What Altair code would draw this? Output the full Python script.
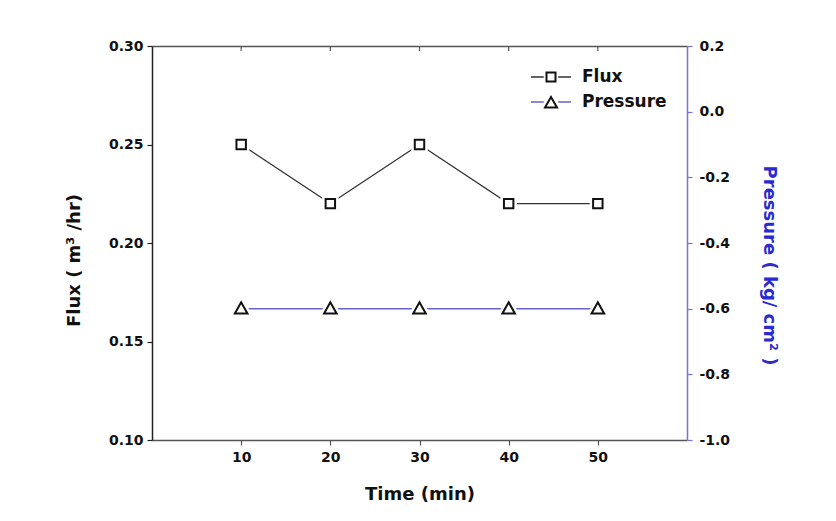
import altair as alt
import pandas as pd

# ---- data ----
time_min = [10, 20, 30, 40, 50]
flux = [0.25, 0.22, 0.25, 0.22, 0.22]
pressure = [-0.6, -0.6, -0.6, -0.6, -0.6]
series_names = ["Flux", "Pressure"]
marker_names = ["Flux marker", "Pressure marker"]
x_ticks = [10, 20, 30, 40, 50]
flux_ticks = [0.10, 0.15, 0.20, 0.25, 0.30]
pressure_ticks = [-1.0, -0.8, -0.6, -0.4, -0.2, 0.0, 0.2]

df_flux = pd.DataFrame({"time": time_min, "value": flux,
                        "series": series_names[0], "marker": marker_names[0]})
df_press = pd.DataFrame({"time": time_min, "value": pressure,
                         "series": series_names[1], "marker": marker_names[1]})
df_ticks = pd.DataFrame({"time": x_ticks})

FONT = "DejaVu Sans"
FLUX_COLOR = "#333333"
PRESS_COLOR = "#6464cc"
PRESS_AXIS = "#7272e0"
PRESS_TITLE = "#2a2ad0"
MARK_COLOR = "#111111"

SQUARE = "M-0.45,-0.45L0.45,-0.45L0.45,0.45L-0.45,0.45Z"
TRIANGLE = "M-0.6,0.45L0.6,0.45L0,-0.6Z"
LEG_LINE = "M-2,0L-0.72,0M0.72,0L2,0"

x_scale = alt.Scale(domain=[0, 60], nice=False, zero=False)
stroke_scale = alt.Scale(domain=series_names, range=[FLUX_COLOR, PRESS_COLOR])
shape_scale = alt.Scale(domain=marker_names, range=[SQUARE, TRIANGLE])
marker_color_scale = alt.Scale(domain=marker_names, range=[MARK_COLOR, MARK_COLOR])

LEG_X, LEG_Y = 388, 20

stroke_legend = alt.Legend(
    title=None, orient="none", legendX=LEG_X, legendY=LEG_Y, padding=0,
    symbolType=LEG_LINE, symbolSize=400, symbolStrokeWidth=1.4,
    symbolFillColor="transparent",
    labelFont=FONT, labelFontSize=17, labelFontWeight="bold", labelColor="#111",
    labelOffset=20, rowPadding=6,
)
marker_legend = alt.Legend(
    title=None, orient="none", legendX=LEG_X, legendY=LEG_Y, padding=0,
    symbolSize=400, symbolStrokeWidth=2, symbolFillColor="white", symbolOpacity=1,
    labelFont=FONT, labelFontSize=17, labelFontWeight="bold", labelExpr="''",
    labelOffset=20, rowPadding=6,
)

bottom_axis = alt.Axis(
    orient="bottom", values=x_ticks, title="Time (min)", grid=False,
    domainColor="#555", domainWidth=1.5, tickColor="#555", tickSize=5, tickWidth=1.2,
    labelFont=FONT, labelFontSize=14, labelFontWeight="bold", labelColor="#111",
    labelPadding=5, titleFont=FONT, titleFontSize=18, titleFontWeight="bold",
    titleColor="#111", titlePadding=21,
)
top_axis = alt.Axis(
    orient="top", values=x_ticks, title=None, labels=False, ticks=False, grid=False,
    domainColor="#555", domainWidth=1.5,
)
left_axis = alt.Axis(
    orient="left", values=flux_ticks, format=".2f", title="Flux ( m³ /hr)", grid=False,
    domainColor="#222", domainWidth=1.5, tickColor="#222", tickSize=5, tickWidth=1.2,
    labelFont=FONT, labelFontSize=14, labelFontWeight="bold", labelColor="#111",
    labelPadding=4, titleFont=FONT, titleFontSize=18, titleFontWeight="bold",
    titleColor="#111", titlePadding=25, titleY=214,
)
right_axis = alt.Axis(
    orient="right", values=pressure_ticks, format=".1f", title="Pressure ( kg/ cm² )",
    grid=False, labelExpr="replace(datum.label, '\u2212', '-')",
    domainColor=PRESS_AXIS, domainWidth=1.5, tickColor=PRESS_AXIS, tickSize=5, tickWidth=1.2,
    labelFont=FONT, labelFontSize=14, labelFontWeight="bold", labelColor="#111",
    labelPadding=7, titleFont=FONT, titleFontSize=18, titleFontWeight="bold",
    titleColor=PRESS_TITLE, titleAngle=90, titlePadding=30, titleY=219,
)

y_flux = alt.Scale(domain=[0.10, 0.30], nice=False, zero=False)
y_press = alt.Scale(domain=[-1.0, 0.2], nice=False, zero=False)


def series_layer(df, y_scale, y_axis, x_axis, shape_path, line_width):
    base = alt.Chart(df)
    x = alt.X("time:Q", scale=x_scale, axis=x_axis)
    y = alt.Y("value:Q", scale=y_scale, axis=y_axis)
    line = base.mark_line(strokeWidth=line_width).encode(
        x=x, y=y,
        stroke=alt.Stroke("series:N", scale=stroke_scale, legend=stroke_legend),
    )
    halo = base.mark_point(shape=shape_path, size=440, filled=True, fill="white",
                           stroke="white", strokeWidth=7, opacity=1).encode(x=x, y=y)
    pts = base.mark_point(size=440, filled=False, fill="white",
                          strokeWidth=2, opacity=1).encode(
        x=x, y=y,
        shape=alt.Shape("marker:N", scale=shape_scale, legend=marker_legend),
        color=alt.Color("marker:N", scale=marker_color_scale, legend=marker_legend),
    )
    return alt.layer(line, halo, pts)


flux_layer = series_layer(df_flux, y_flux, left_axis, bottom_axis, SQUARE, 1.2)
press_layer = series_layer(df_press, y_press, right_axis, top_axis, TRIANGLE, 1.5)

# inward-pointing tick marks along the top frame line
top_ticks = alt.Chart(df_ticks).mark_rule(color="#555", strokeWidth=1.2).encode(
    x=alt.X("time:Q", scale=x_scale, axis=None),
    y=alt.value(0),
    y2=alt.value(5),
)

chart = (
    alt.layer(flux_layer, press_layer, top_ticks)
    .resolve_scale(y="independent")
    .resolve_axis(x="independent", y="independent")
    .properties(
        width=535, height=394,
        autosize=alt.AutoSizeParams(type="none"),
        padding={"left": 144, "top": 38, "right": 141, "bottom": 65},
        background="white",
    )
    .configure_view(stroke=None)
)

chart.save("out.html", embed_options={"renderer": "svg", "actions": False})
